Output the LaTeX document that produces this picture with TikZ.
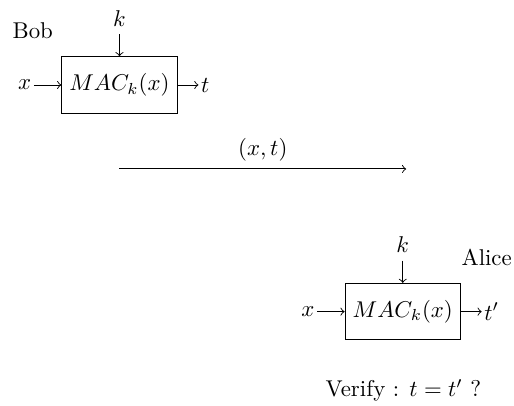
\documentclass[tikz,border=0pt]{standalone}
\usetikzlibrary{positioning}

\begin{document}
\begin{tikzpicture}[x=1.05cm,y=1.05cm,mac/.style={draw,minimum height=0.87cm}]
  \useasboundingbox (-1.75,1.245) rectangle (5.78,-4.70);
  % Bob
  \node[mac] (macB) at (0,0) {$MAC_k(x)$};
  \node (kB) at (0,0.98) {$k$};
  \node[left=0.42cm of macB,inner sep=1pt] (xB) {$x$};
  \node[right=0.32cm of macB,inner sep=1pt] (tB) {$t$};
  \node (bob) at (-1.27,0.8) {Bob};
  \draw[->] (kB)--(macB); \draw[->] (xB)--(macB); \draw[->] (macB)--(tB);
  % channel
  \coordinate (s) at (0,-1.23); \coordinate (e) at (4.2,-1.23);
  \draw[->] (s)--(e) node[midway,above]{$(x,t)$};
  % Alice
  \node[mac] (macA) at (4.15,-3.32) {$MAC_k(x)$};
  \node (kA) at (4.15,-2.34) {$k$};
  \node[left=0.42cm of macA,inner sep=1pt] (xA) {$x$};
  \node[right=0.32cm of macA,inner sep=1pt] (tA) {$t'$};
  \node (alice) at (5.38,-2.53) {Alice};
  \draw[->] (kA)--(macA); \draw[->] (xA)--(macA); \draw[->] (macA)--(tA);
  \node (verify) at (4.16,-4.47) {Verify : $t=t'$ ?};
\end{tikzpicture}
\end{document}
